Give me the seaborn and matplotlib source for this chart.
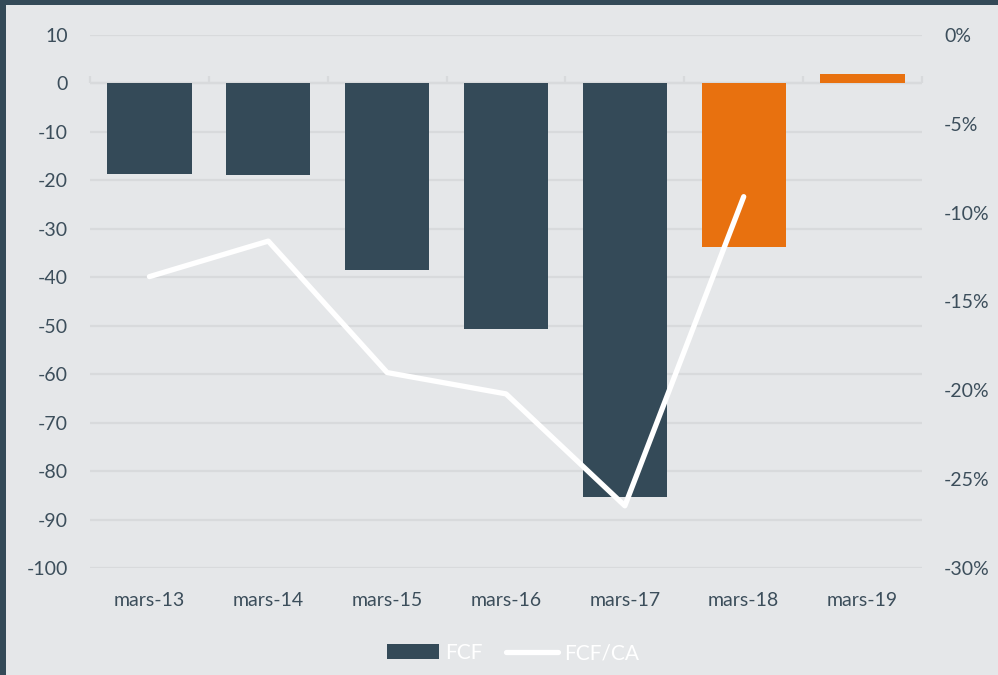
import pandas as pd
import matplotlib.pyplot as plt
import seaborn as sns
from matplotlib.patches import Patch, Rectangle
from matplotlib.lines import Line2D

# values
periods = ["mars-13", "mars-14", "mars-15", "mars-16", "mars-17", "mars-18", "mars-19"]
fcf = [-18.6, -18.8, -38.6, -50.7, -85.4, -33.8, 1.9]
fcf_ca = [-13.6, -11.6, -19.0, -20.2, -26.5, -9.1, None]
kind = ["actual", "actual", "actual", "actual", "actual", "estimate", "estimate"]

dark = "#344a58"
orange = "#e8710f"
bg = "#e5e7e9"
text_col = "#3c4e5b"
grid_col = "#d8dadc"

df = pd.DataFrame({"period": periods, "fcf": fcf, "ratio": fcf_ca, "kind": kind})

sns.set_style("white")
plt.rcParams["font.family"] = ["Lato", "DejaVu Sans"]
plt.rcParams["axes.unicode_minus"] = False

fig = plt.figure(figsize=(9.98, 6.75), dpi=100)
fig.patch.set_facecolor(dark)
fig.add_artist(
    Rectangle((6 / 998, 0), 1, 1 - 5 / 675, transform=fig.transFigure,
              facecolor=bg, edgecolor="none", zorder=-10)
)

ax = fig.add_axes([90 / 998, 1 - 568 / 675, 832 / 998, 533 / 675])
ax.set_facecolor("none")

sns.barplot(
    data=df,
    x="period",
    y="fcf",
    hue="kind",
    palette={"actual": dark, "estimate": orange},
    saturation=1,
    dodge=False,
    width=0.71,
    linewidth=0,
    edgecolor="none",
    legend=False,
    ax=ax,
    zorder=3
)

ax.set_ylim(-100, 10)
ax.set_yticks(range(-100, 11, 10))
ax.set_xlim(-0.5, 6.5)
ax.yaxis.grid(True, color=grid_col, linewidth=1.6, zorder=0)
ax.set_axisbelow(True)
for s in ax.spines.values():
    s.set_visible(False)
ax.axhline(0, color=grid_col, linewidth=1.6, zorder=1)
ax.tick_params(axis="both", length=0, labelsize=14, labelcolor=text_col)
ax.tick_params(axis="y", pad=16)
ax.tick_params(axis="x", pad=17)
ax.set_xlabel("")
ax.set_ylabel("")

# small ticks on the zero line between categories
sec = ax.secondary_xaxis(100 / 110)
sec.set_xticks([i - 0.5 for i in range(8)])
sec.set_xticklabels([])
sec.tick_params(direction="out", length=5, width=1.6, color=grid_col)
sec.spines["bottom"].set_visible(False)
sec.spines["top"].set_visible(False)

ax2 = ax.twinx()
sns.lineplot(
    data=df.dropna(),
    x="period",
    y="ratio",
    color="white",
    linewidth=3.8,
    ax=ax2,
    zorder=4
)
ax2.set_ylim(-30, 0)
ax2.set_yticks(range(-30, 1, 5))
ax2.set_yticklabels([f"{v}%" for v in range(-30, 1, 5)])
ax2.tick_params(axis="y", length=0, labelsize=14, labelcolor=text_col, pad=16)
ax2.set_ylabel("")
ax2.set_xlim(-0.5, 6.5)
for s in ax2.spines.values():
    s.set_visible(False)

handles = [
    Patch(facecolor=dark, edgecolor="none", label="FCF"),
    Line2D([0], [0], color="white", linewidth=3.8, label="FCF/CA"),
]
fig.legend(
    handles=handles,
    loc="center",
    bbox_to_anchor=(0.514, 1 - 653 / 675),
    ncol=2,
    frameon=False,
    fontsize=15,
    labelcolor="white",
    handlelength=2.5,
    handleheight=0.7,
    handletextpad=0.3,
    columnspacing=1.1
)

fig.savefig("out.png", dpi=100, facecolor=fig.get_facecolor())
